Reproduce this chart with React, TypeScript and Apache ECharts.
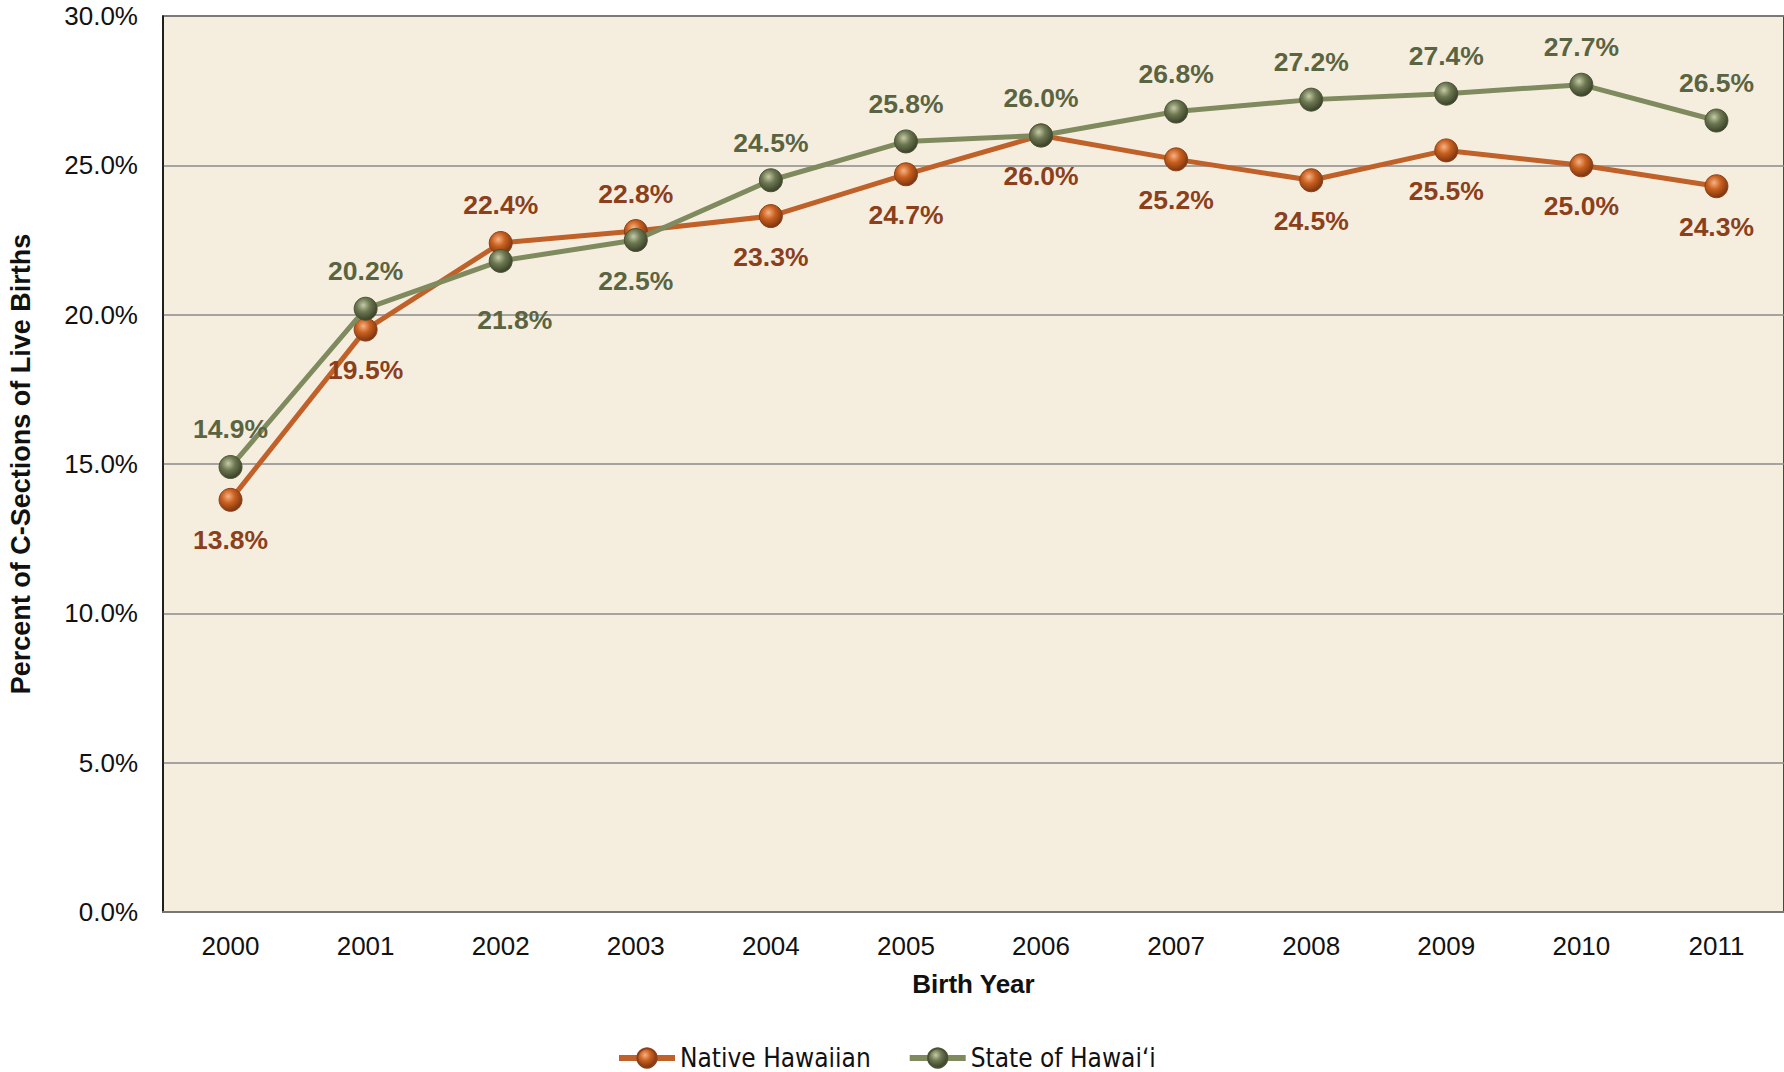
import React, { useEffect, useRef } from "react";
import * as echarts from "echarts";

const years = ["2000", "2001", "2002", "2003", "2004", "2005", "2006", "2007", "2008", "2009", "2010", "2011"];
const nativeHawaiian = [13.8, 19.5, 22.4, 22.8, 23.3, 24.7, 26.0, 25.2, 24.5, 25.5, 25.0, 24.3];
const stateOfHawaii = [14.9, 20.2, 21.8, 22.5, 24.5, 25.8, 26.0, 26.8, 27.2, 27.4, 27.7, 26.5];
// label placement: true = above the point
const nativeAbove = [false, false, true, true, false, false, false, false, false, false, false, false];
const stateAbove = [true, true, false, false, true, true, true, true, true, true, true, true];

const FONT = '"Liberation Sans", Arial, Helvetica, sans-serif';

function sphere(light: string, mid: string, dark: string) {
  return new echarts.graphic.RadialGradient(0.4, 0.35, 0.65, [
    { offset: 0, color: light },
    { offset: 0.45, color: mid },
    { offset: 1, color: dark },
  ]);
}

export default function App() {
  const ref = useRef<HTMLDivElement>(null);
  useEffect(() => {
    if (!ref.current) return;
    const chart = echarts.init(ref.current, undefined, { renderer: "svg" });
    const orangeSphere = sphere("#F6B285", "#C9601F", "#7E3510");
    const greenSphere = sphere("#C5CBA6", "#6E7852", "#3A4228");

    const mkData = (vals: number[], above: boolean[], specialIdx: number | null) =>
      vals.map((v, i) => {
        const lab: any = {
          position: above[i] ? "top" : "bottom",
          distance: above[i] ? 12 : 15,
        };
        if (specialIdx === i) {
          lab.distance = 34;
          lab.offset = [14, 0];
        }
        return { value: v, label: lab };
      });

    chart.setOption({
      animation: false,
      backgroundColor: "#ffffff",
      textStyle: { fontFamily: FONT },
      grid: {
        left: 163,
        right: 0,
        top: 16,
        bottom: 160,
        show: true,
        backgroundColor: "#F5EEDF",
        borderColor: "#111111",
        borderWidth: 1.5,
        containLabel: false,
        outerBoundsMode: "none",
      },
      legend: {
        left: 611,
        top: 1040,
        itemWidth: 56,
        itemHeight: 24,
        itemGap: 36,
        lineStyle: { width: 6 },
        textStyle: {
          fontFamily: '"Liberation Sans Narrow", "DejaVu Sans Condensed", Arial, sans-serif',
          fontSize: 26,
          color: "#111111",
        },
        data: ["Native Hawaiian", "State of Hawai\u02BBi"],
      },
      xAxis: {
        type: "category",
        data: years,
        boundaryGap: true,
        name: "Birth Year",
        nameLocation: "middle",
        nameGap: 59,
        nameTextStyle: { fontFamily: FONT, fontSize: 26, fontWeight: "bold", color: "#111111" },
        axisLine: { show: true, lineStyle: { color: "#777777", width: 2 } },
        axisTick: { show: false },
        axisLabel: { fontFamily: FONT, fontSize: 26, color: "#111111", margin: 21 },
        splitLine: { show: false },
      },
      yAxis: {
        type: "value",
        min: 0,
        max: 30,
        interval: 5,
        name: "Percent of C-Sections of Live Births",
        nameLocation: "middle",
        nameGap: 129,
        nameTextStyle: { fontFamily: FONT, fontSize: 27, fontWeight: "bold", color: "#111111" },
        axisLine: { show: true, lineStyle: { color: "#111111", width: 1.5 } },
        axisTick: { show: false },
        axisLabel: {
          fontFamily: FONT,
          fontSize: 26,
          color: "#111111",
          margin: 25,
          formatter: (v: number) => v.toFixed(1) + "%",
        },
        splitLine: { show: true, lineStyle: { color: "#8A8A8A", width: 1.5 } },
      },
      series: [
        {
          name: "Native Hawaiian",
          type: "line",
          z: 3,
          symbol: "circle",
          symbolSize: 23,
          lineStyle: { color: "#C0612A", width: 5 },
          itemStyle: { color: orangeSphere, borderColor: "#8A4018", borderWidth: 1 },
          label: {
            show: true,
            fontFamily: FONT,
            fontSize: 26.5,
            fontWeight: "bold",
            color: "#8B3F1B",
            formatter: (p: any) => Number(p.value).toFixed(1) + "%",
          },
          data: mkData(nativeHawaiian, nativeAbove, null),
        },
        {
          name: "State of Hawai\u02BBi",
          type: "line",
          z: 4,
          symbol: "circle",
          symbolSize: 23,
          lineStyle: { color: "#7F8A5E", width: 5 },
          itemStyle: { color: greenSphere, borderColor: "#4A5234", borderWidth: 1 },
          label: {
            show: true,
            fontFamily: FONT,
            fontSize: 26.5,
            fontWeight: "bold",
            color: "#5B6441",
            formatter: (p: any) => Number(p.value).toFixed(1) + "%",
          },
          data: mkData(stateOfHawaii, stateAbove, 2),
        },
      ],
    });
    return () => chart.dispose();
  }, []);
  return <div ref={ref} style={{ width: 1784, height: 1072, position: "absolute", left: 0, top: 0 }} />;
}
